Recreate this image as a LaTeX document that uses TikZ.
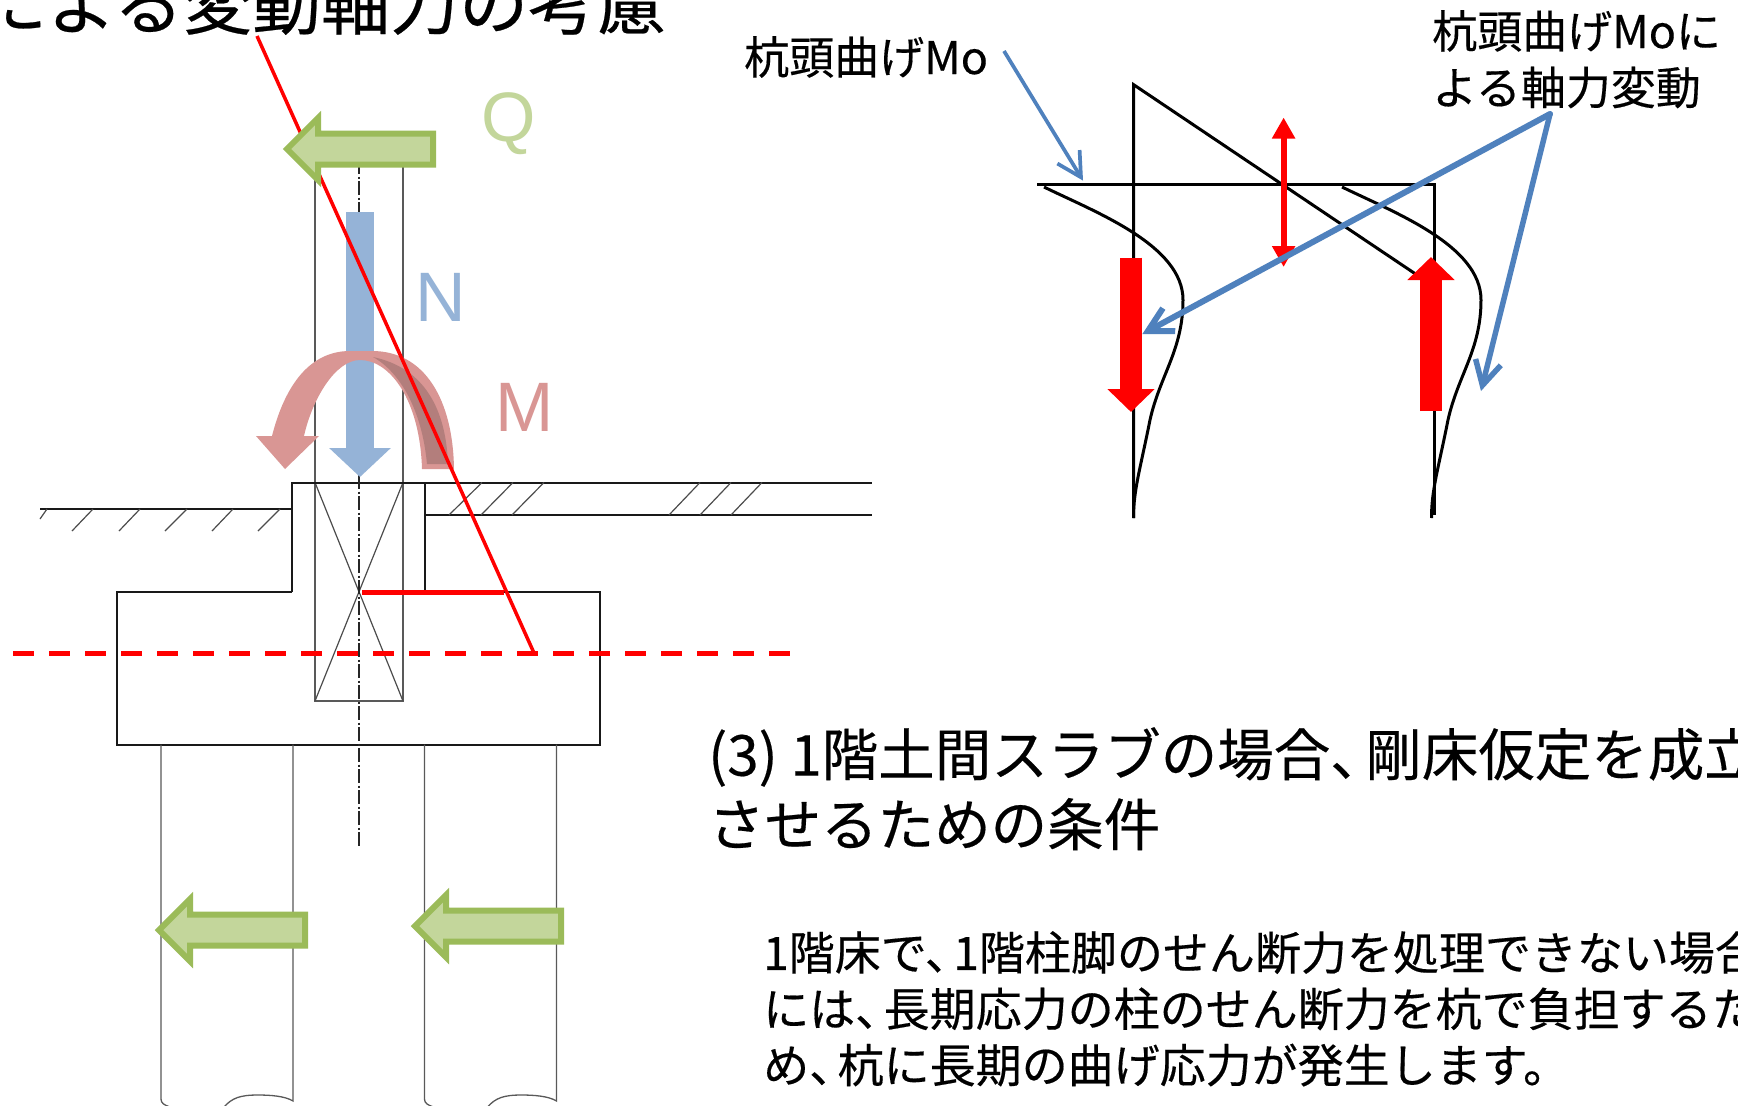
\documentclass[tikz,border=0pt]{standalone}
\usepackage{fontspec}
\usetikzlibrary{arrows.meta}
\setmainfont{Noto Sans CJK JP}[FakeBold=0.35]
\newfontfamily\latinf{Liberation Sans}
\newcommand{\tou}{、\hspace{-.38em}}
\definecolor{qgreen}{HTML}{C3D69B}
\definecolor{qedge}{HTML}{9BBB59}
\definecolor{nblue}{HTML}{95B3D7}
\definecolor{mpink}{HTML}{D99694}
\definecolor{mdark}{HTML}{B37E7C}
\definecolor{lblue}{HTML}{4F81BD}
\tikzset{
  thin line/.style={draw=black!65,line width=1.3pt},
  frame line/.style={draw=black!90,line width=2pt},
  hatch line/.style={draw=black!70,line width=1.2pt},
  centre line/.style={draw=black!85,line width=1.3pt,dash pattern=on 14pt off 2.5pt on 2pt off 2.5pt},
  diag line/.style={draw=black,line width=3pt},
  green arrow/.style={fill=qgreen,draw=qedge,line width=6pt,miter limit=10},
  blue barb/.style={draw=lblue,-{Straight Barb[length=24pt,width=26pt]}},
  red block/.style={draw=red,line width=22pt,-{Triangle[length=23pt,width=46pt]}},
  label text/.style={inner sep=0pt,text=black},
  force text/.style={inner sep=0pt,font=\latinf\fontsize{70}{70}\selectfont},
}
\begin{document}
\begin{tikzpicture}[x=1pt,y=-1pt]
\useasboundingbox (0,0) rectangle (1738,1106);
\fill[white] (0,0) rectangle (1738,1106);

% titles
\node[label text,anchor=base west,font=\fontsize{69}{69}\selectfont] (title1) at (-22,29) {による変動軸力の考慮};
\node[label text,anchor=north west,align=left,font=\fontsize{56.5}{70}\selectfont] (title3) at (708,727)
  {(3) 1階土間スラブの場合\tou 剛床仮定を成立\\させるための条件};
\node[label text,anchor=north west,align=left,font=\fontsize{46}{56.3}\selectfont] (body) at (763,931)
  {1階床で\tou 1階柱脚のせん断力を処理できない場合\\には\tou 長期応力の柱のせん断力を杭で負担するた\\め\tou 杭に長期の曲げ応力が発生します。};
\node[label text,anchor=west,font=\fontsize{45}{56}\selectfont] (mo) at (744,57) {杭頭曲げMo};
\node[label text,anchor=north west,align=left,font=\fontsize{45}{56.5}\selectfont] (mon) at (1432,10) {杭頭曲げMoに\\よる軸力変動};

% foundation
\draw[thin line] (315,160) -- (315,701) -- (403,701) -- (403,160);
\draw[hatch line] (315,482.5) -- (403,701) (403,482.5) -- (315,701);
\draw[frame line] (40,509) -- (292,509);
\draw[frame line] (292,592) -- (292,482.5) -- (872,482.5);
\draw[frame line] (425,482.5) -- (425,592);
\draw[frame line] (425,515) -- (872,515);
\draw[frame line] (292,592) -- (117,592) -- (117,744.5) -- (600,744.5) -- (600,592) -- (425,592);
\draw[hatch line] (47,509) -- (40,519);
\foreach \a/\b in {93/72,140/119,187/165,233/212,280/258}{
  \draw[hatch line] (\a,509) -- (\b,531);}
\foreach \a/\b in {482/449,513/481,544/512,700/669,731/700,762/731}{
  \draw[hatch line] (\a,482.5) -- (\b,515);}
\draw[centre line] (359,160) -- (359,848);

% piles
\foreach \d in {0,263.5}{
  \draw[thin line] (161+\d,744.5) -- (161+\d,1099) .. controls (161+\d,1103) and (164+\d,1105) .. (170+\d,1107);
  \draw[thin line] (293+\d,744.5) -- (293+\d,1101) .. controls (285+\d,1096) and (270+\d,1095) .. (258+\d,1095) .. controls (240+\d,1095) and (232+\d,1098) .. (224+\d,1107);
}

% N arrow
\coordinate (nstart) at (360,212);
\coordinate (nend) at (360,477);
\draw[nblue,line width=28pt,-{Triangle[length=29pt,width=60pt]}] (nstart) -- (nend);

% M arrow
\fill[mpink] (454,469) .. controls (453,400) and (425,351) .. (372,351)
  -- (350,351) .. controls (310,351) and (285,385) .. (272,436)
  -- (256,436) -- (285,469) -- (319,436) -- (304,436)
  .. controls (312,400) and (335,360) .. (360,360)
  .. controls (390,360) and (420,400) .. (422,469) -- cycle;
\fill[mdark] (448,464) .. controls (446,410) and (425,368) .. (373,357)
  .. controls (400,372) and (422,410) .. (427,464) -- cycle;

% red construction lines
\coordinate (ra) at (257,36);
\coordinate (rb) at (534,653);
\draw[red,line width=3.5pt] (ra) -- (rb);
\draw[red,line width=5pt] (362,592) -- (504,592);
\draw[red,line width=5pt,dash pattern=on 20.5pt off 15.5pt] (13,653) -- (790,653);

% Q and pile shears
\draw[green arrow] (287,149) -- (318,118) -- (318,133.5) -- (433,133.5) -- (433,164.5) -- (318,164.5) -- (318,180) -- cycle;
\draw[green arrow] (159,930) -- (190,899) -- (190,914.5) -- (305,914.5) -- (305,945.5) -- (190,945.5) -- (190,961) -- cycle;
\draw[green arrow] (415,926) -- (446,895) -- (446,910.5) -- (561,910.5) -- (561,941.5) -- (446,941.5) -- (446,957) -- cycle;

\node[force text,text=qgreen] (q) at (509,124) {Q};
\node[force text,text=nblue] (n) at (441,297) {N};
\node[force text,text=mpink] (m) at (525,407) {M};

% right diagram
\draw[diag line] (1133.5,518) -- (1133.5,84.6) -- (1420,277);
\draw[diag line] (1037,184) -- (1434,184) -- (1434,515);
\foreach \d in {0,298}{
  \draw[line width=3pt,black] (1044+\d,187) .. controls (1095+\d,212) and (1183+\d,245) .. (1183+\d,300)
    .. controls (1183+\d,350) and (1160+\d,375) .. (1150+\d,420)
    .. controls (1140+\d,470) and (1133.5+\d,490) .. (1133.5+\d,518);
}
\coordinate (s1) at (1283.6,117.5);
\coordinate (s2) at (1283.6,267);
\draw[red,line width=6pt,{Triangle[length=21pt,width=22pt]}-{Triangle[length=21pt,width=22pt]}] (s1) -- (s2);
\coordinate (d1) at (1131,257.5);
\coordinate (d2) at (1131,412);
\draw[red block] (d1) -- (d2);
\coordinate (u1) at (1431,411);
\coordinate (u2) at (1431,257);
\draw[red block] (u1) -- (u2);

% leaders
\coordinate (mofree) at (1004,51);
\coordinate (motip) at (1083,180.6);
\coordinate (split) at (1550,114);
\coordinate (tipl) at (1142.4,334);
\coordinate (tipr) at (1481,391);
\draw[blue barb,line width=3.7pt] (mofree) -- (motip);
\draw[blue barb,line width=6pt,line cap=round] (split) -- (tipl);
\draw[blue barb,line width=5.5pt,line cap=round] (split) -- (tipr);
\end{tikzpicture}
\end{document}
